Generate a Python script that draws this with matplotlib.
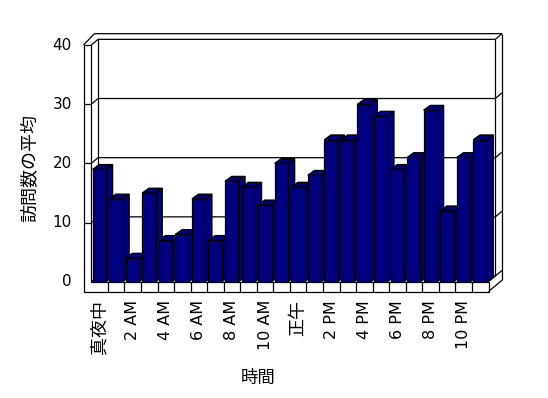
import numpy as np
import matplotlib.pyplot as plt
from matplotlib.patches import Polygon

plt.rcParams['font.family'] = ['DejaVu Sans', 'Noto Sans CJK JP']

# data (average visits per hour)
hours = list(range(24))
visits = [19, 14, 4, 15, 7, 8, 14, 7, 17, 16, 13, 20,
          16, 18, 24, 24, 30, 28, 19, 21, 29, 12, 21, 24]
hour_labels = ['真夜中', '2 AM', '4 AM', '6 AM', '8 AM', '10 AM',
               '正午', '2 PM', '4 PM', '6 PM', '8 PM', '10 PM']
y_ticks = [0, 10, 20, 30, 40]

bar_color = '#000080'
lw = 0.9

# pixel geometry of the front plane -> data units
px_x = 16.55   # pixels per category
px_y = 5.917   # pixels per value unit
x0_px, y0_px = 91.3, 281.7

fig = plt.figure(figsize=(5.48, 3.98), dpi=100)
ax = fig.add_axes([0, 0, 1, 1])
ax.set_xlim(-x0_px / px_x, (548 - x0_px) / px_x)
ax.set_ylim((y0_px - 398) / px_y, y0_px / px_y)
ax.axis('off')

n = len(hours)
ymax = 40
dx, dy = 0.41, 0.96        # depth of floor / wall thickness
wall_out = -0.47           # outer edge of left wall
floor_bot = -1.66          # bottom of floor slab
bdx, bdy = 0.40, 0.80      # bar depth

def line(xs, ys, z=1):
    ax.plot(xs, ys, color='black', lw=lw, zorder=z, solid_capstyle='butt')

# back wall + left wall faces
ax.add_patch(Polygon([(dx, dy), (n + dx, dy), (n + dx, ymax + dy), (dx, ymax + dy)],
                     facecolor='white', edgecolor='none', zorder=0))
for t in y_ticks:
    line([0, dx, n + dx, n + 2 * dx], [t, t + dy, t + dy, t + 2 * dy])
line([dx, dx], [dy, ymax + dy])
line([n + dx, n + dx], [dy, ymax + dy])
line([n + 2 * dx, n + 2 * dx], [floor_bot + 2 * dy, ymax + 2 * dy])
# top outline of walls
line([wall_out, 0.19, n + 2 * dx], [ymax, ymax + 2 * dy, ymax + 2 * dy])
# floor right side
line([n, n + dx], [0, dy], z=5)
line([n, n + 2 * dx], [floor_bot, floor_bot + 2 * dy], z=5)

# bars, left to right so each one hides the side of the previous
for i, v in zip(hours, visits):
    xa, xb = i + 0.08, i + 0.89
    z = 2 + i * 0.01
    side = Polygon([(xb, 0), (xb + bdx, bdy), (xb + bdx, v + bdy), (xb, v)],
                   facecolor=bar_color, edgecolor='black', lw=lw, zorder=z)
    top = Polygon([(xa, v), (xb, v), (xb + bdx, v + bdy), (xa + bdx, v + bdy)],
                  facecolor=bar_color, edgecolor='black', lw=lw, zorder=z)
    front = Polygon([(xa, 0), (xb, 0), (xb, v), (xa, v)],
                    facecolor=bar_color, edgecolor='black', lw=lw, zorder=z + 0.001)
    ax.add_patch(side)
    ax.add_patch(top)
    ax.add_patch(front)

# front face of floor and left wall (L shape)
ax.add_patch(Polygon([(wall_out, ymax), (wall_out, floor_bot), (n, floor_bot), (n, 0),
                      (0, 0), (0, ymax)],
                     facecolor='white', edgecolor='black', lw=lw, zorder=4))
for t in y_ticks[1:-1]:
    line([wall_out, 0], [t, t], z=5)
for k in range(1, n):
    line([k, k], [floor_bot, 0], z=5)

# tick labels
for t in y_ticks:
    ax.text(-1.17, t, str(t), ha='right', va='center', fontsize=11)
for j, lab in enumerate(hour_labels):
    size = 11.5 if lab.isascii() else 13
    ax.text(hours[2 * j] + 0.5, -3.1, lab, rotation=90, ha='center', va='top', fontsize=size)

ax.text(10.07, -16.3, '時間', ha='center', va='center', fontsize=12.5)
ax.text(-3.7, 19.2, '訪問数の平均', rotation=90, ha='center', va='center', fontsize=13)

fig.savefig('out.png', dpi=100)
